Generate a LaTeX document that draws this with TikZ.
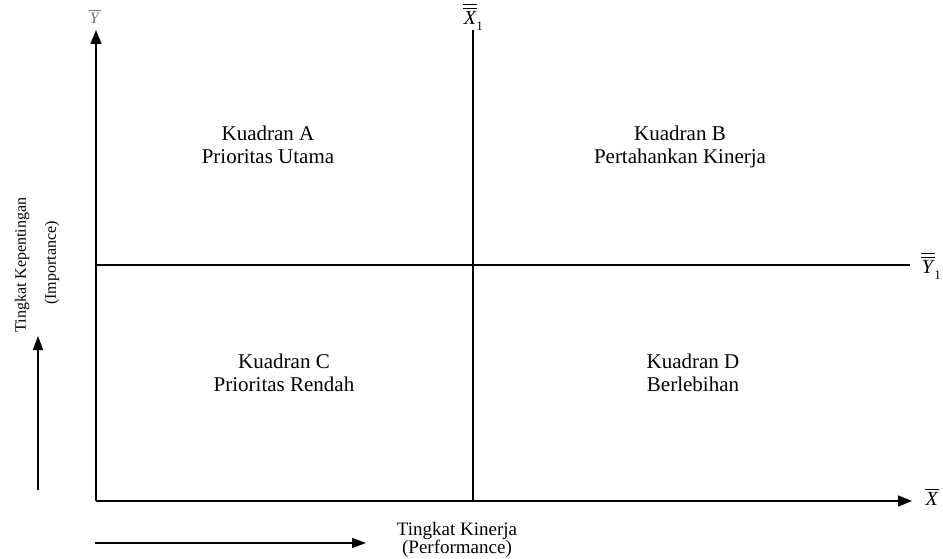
\documentclass[tikz,border=0pt]{standalone}
\usepackage{fontspec}
\setmainfont{Liberation Serif}
\usetikzlibrary{arrows.meta}
\newcommand{\barstack}[2]{\leavevmode\vbox{\offinterlineskip\halign{\hfil##\hfil\cr
  \ifnum#2>1 \rule{0.72em}{0.055em}\cr\noalign{\kern0.13em}\fi
  \rule{0.72em}{0.055em}\cr\noalign{\kern0.12em}\textit{#1}\cr}}}
\newcommand{\subone}{\kern-0.05em\raisebox{-0.3em}{\fontsize{13}{13}\selectfont 1}}
\tikzset{
  axis/.style={line width=1.6pt,-{Triangle[length=14pt,width=11pt]}},
  divider/.style={line width=1.2pt},
  quad/.style={align=center,font=\fontsize{21}{23}\selectfont},
  vlab/.style={rotate=90,font=\fontsize{16}{18}\selectfont},
  hlab/.style={align=center,font=\fontsize{19}{18}\selectfont},
  small arrow/.style={line width=1.2pt,-{Triangle[length=14pt,width=10pt]}},
  axlab/.style={font=\fontsize{20}{22}\selectfont,inner sep=1pt}
}
\begin{document}
\begin{tikzpicture}[x=1pt,y=-1pt]
\useasboundingbox (0,0) rectangle (943,559);
% axes
\coordinate (O) at (96,501);
\coordinate (Ytop) at (96,30);
\coordinate (Xend) at (912,501);
\coordinate (Mtop) at (473,30);
\coordinate (Mbot) at (473,501);
\coordinate (Hl) at (96,265);
\coordinate (Hr) at (910,265);
\draw[axis] (O) -- (Ytop);
\draw[axis] (O) -- (Xend);
\draw[divider] (Mbot) -- (Mtop);
\draw[divider] (Hl) -- (Hr);
% axis labels
\node[axlab,text=black!55,font=\fontsize{16}{18}\selectfont] (ylab) at (95,17) {\barstack{Y}{1}};
\node[axlab] (x1lab) at (473,17) {\barstack{X}{2}\subone};
\node[axlab] (y1lab) at (931,266) {\barstack{Y}{2}\subone};
\node[axlab] (xlab) at (932,497) {\barstack{X}{1}};
% quadrants
\node[quad] (qa) at (268,145) {Kuadran A\\Prioritas Utama};
\node[quad] (qb) at (680,147) {Kuadran B\\Pertahankan Kinerja};
\node[quad] (qc) at (284,373) {Kuadran C\\Prioritas Rendah};
\node[quad] (qd) at (693,373) {Kuadran D\\Berlebihan};
% left label
\node[vlab] (imp1) at (22,265) {Tingkat Kepentingan};
\node[vlab] (imp2) at (52,263) {(Importance)};
\coordinate (la1) at (38,490);
\coordinate (la2) at (38,336);
\draw[small arrow] (la1) -- (la2);
% bottom label
\node[hlab] (perf) at (457,540) {Tingkat Kinerja\\(Performance)};
\coordinate (ba1) at (95,543);
\coordinate (ba2) at (366,543);
\draw[small arrow] (ba1) -- (ba2);
\end{tikzpicture}
\end{document}
